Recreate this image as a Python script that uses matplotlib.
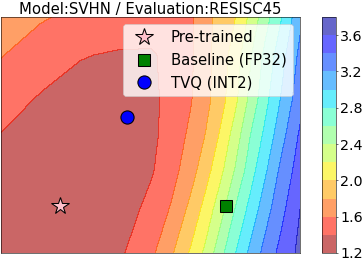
import numpy as np
import matplotlib
matplotlib.use('Agg')
import matplotlib.pyplot as plt

# loss landscape on a coarse grid
grid_x = [-0.36, -0.12, 0.12, 0.36, 0.55, 0.67, 0.79, 0.88, 0.97, 1.06, 1.15, 1.24, 1.33, 1.45]
grid_y = [1.145, 0.915, 0.642, 0.43, 0.218, -0.024, -0.285]
loss = [
    [1.72, 1.62, 1.55, 1.52, 1.50, 1.52, 1.57, 1.73, 1.88, 2.00, 2.25, 2.52, 2.77, 3.15],
    [1.61, 1.50, 1.41, 1.38, 1.38, 1.45, 1.57, 1.74, 1.90, 2.10, 2.38, 2.65, 2.90, 3.25],
    [1.48, 1.38, 1.33, 1.31, 1.35, 1.47, 1.59, 1.74, 1.92, 2.16, 2.46, 2.74, 3.00, 3.33],
    [1.395, 1.33, 1.29, 1.28, 1.35, 1.49, 1.64, 1.81, 2.03, 2.30, 2.60, 2.85, 3.11, 3.43],
    [1.35, 1.29, 1.26, 1.27, 1.38, 1.52, 1.72, 1.92, 2.15, 2.42, 2.71, 2.97, 3.23, 3.50],
    [1.31, 1.27, 1.25, 1.30, 1.46, 1.62, 1.86, 2.08, 2.33, 2.62, 2.87, 3.12, 3.33, 3.60],
    [1.29, 1.26, 1.27, 1.37, 1.56, 1.77, 2.03, 2.25, 2.54, 2.80, 3.05, 3.27, 3.45, 3.65],
]

# model positions in the plane
pretrained = (0.0, 0.0)
baseline = (1.0, 0.0)
tvq = (0.40, 0.54)

levels = np.arange(1.2, 3.81, 0.2)
cbar_ticks = [1.2, 1.6, 2.0, 2.4, 2.8, 3.2, 3.6]

fig = plt.figure(figsize=(7.26, 5.22), dpi=50)
ax = fig.add_axes([1 / 363, 8 / 261, 299 / 363, 236 / 261])
cax = fig.add_axes([322 / 363, 8 / 261, 14 / 363, 236 / 261])

X, Y = np.meshgrid(grid_x, grid_y)
cs = ax.contourf(X, Y, np.array(loss), levels=levels, cmap='jet_r', alpha=0.6)

ax.plot(*pretrained, marker='*', ms=26, color='pink', mec='black', mew=1.5, ls='none', label='Pre-trained')
ax.plot(*baseline, marker='s', ms=18, color='green', mec='black', mew=1.5, ls='none', label='Baseline (FP32)')
ax.plot(*tvq, marker='o', ms=19, color='blue', mec='black', mew=1.5, ls='none', label='TVQ (INT2)')

ax.set_xlim(grid_x[0], grid_x[-1])
ax.set_ylim(grid_y[-1], grid_y[0])
ax.set_xticks([])
ax.set_yticks([])
ax.set_title('Model:SVHN / Evaluation:RESISC45', fontsize=21.5, pad=5)
ax.legend(loc='upper right', fontsize=21.5)

cb = fig.colorbar(cs, cax=cax, ticks=cbar_ticks)
cb.ax.tick_params(labelsize=20.5, pad=2.5)

fig.savefig('out.png', dpi=50)
